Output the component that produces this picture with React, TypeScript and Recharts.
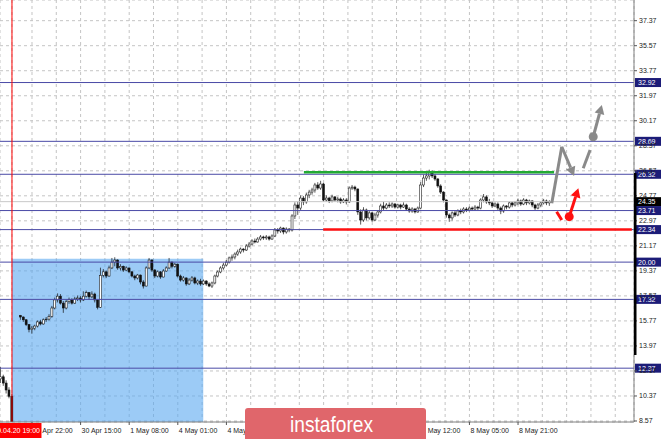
import React from "react";
import {
  ComposedChart,
  Bar,
  XAxis,
  YAxis,
  CartesianGrid,
  ReferenceLine,
  ReferenceArea,
  ReferenceDot,
} from "recharts";

const W = 665;
const H = 439;
const FONT = "'Liberation Sans', Arial, sans-serif";

// candles before the session separator (index 0..4)
const preOpen = [11.6, 11.75, 11.3, 10.8, 10.35];
const preHigh = [12.45, 11.9, 11.5, 11.0, 10.5];
const preLow = [11.3, 11.1, 10.55, 10.2, 8.0];
const preClose = [11.75, 11.3, 10.8, 10.35, 8.1];

// candles from index 7 on
const firstIdx = 7;
const firstOpen = 16.15;
const closes = [
  16.05, 15.85, 15.5, 15.15, 15.25, 15.4, 15.7, 15.55, 15.85, 15.9,
  16.1, 16.7, 17.28, 17.55, 17.05, 16.7, 17.15, 17.3, 17.05, 17.35,
  17.42, 17.28, 17.55, 17.8, 17.5, 17.7, 17.28, 16.75, 19.05, 19.3,
  19.0, 19.58, 20.0, 20.15, 19.58, 19.7, 19.43, 19.58, 19.3, 19.0,
  18.86, 19.07, 18.57, 18.28, 19.58, 20.15, 19.43, 19.0, 19.3, 18.93,
  19.36, 19.58, 20.0, 19.7, 19.85, 19.0, 18.71, 18.86, 18.43, 18.71,
  18.86, 18.5, 18.64, 18.43, 18.64, 18.43, 18.28, 18.5, 19.0, 19.29,
  19.58, 19.79, 20.0, 20.3, 20.37, 20.58, 20.73, 20.94, 20.87, 21.16,
  21.3, 21.52, 21.45, 21.66, 21.81, 21.74, 21.81, 21.66, 21.88, 22.31,
  22.24, 22.45, 22.17, 22.38, 22.31, 23.32, 24.11, 23.89, 24.61, 24.33,
  24.83, 25.04, 25.19, 25.55, 25.33, 25.62, 24.47, 24.61, 24.4, 24.69,
  24.47, 24.54, 24.33, 24.47, 24.33, 25.33, 25.4, 25.26, 23.61, 23.03,
  23.75, 23.18, 23.54, 23.03, 23.39, 23.61, 24.04, 23.89, 24.11, 24.04,
  24.18, 23.96, 24.11, 23.96, 24.11, 23.82, 23.68, 23.82, 23.61, 23.89,
  25.55, 26.05, 26.2, 26.48, 26.2, 25.98, 25.48, 25.04, 24.47, 23.39,
  23.18, 23.54, 23.39, 23.68, 23.61, 23.82, 23.75, 23.89, 23.82, 23.96,
  23.89, 24.47, 24.69, 24.33, 24.26, 24.04, 24.18, 23.89, 23.68, 24.04,
  23.96, 24.26, 24.11, 24.26, 24.4, 24.18, 24.47, 24.26, 24.4, 24.11,
  23.89, 24.11, 24.26, 24.4, 24.26, 24.35,
];
const highs = [
  16.2, 16.1, 15.9, 15.55, 15.4, 15.5, 15.8, 15.85, 15.95, 16.05,
  16.25, 16.85, 17.45, 17.75, 17.7, 17.2, 17.3, 17.45, 17.4, 17.5,
  17.6, 17.55, 17.9, 17.95, 17.85, 17.9, 17.8, 17.3, 19.6, 19.5,
  19.4, 19.75, 20.3, 20.35, 20.2, 19.85, 19.75, 19.7, 19.6, 19.35,
  19.1, 19.15, 19.1, 18.7, 19.7, 20.3, 20.2, 19.5, 19.4, 19.35,
  19.5, 19.7, 20.3, 20.05, 19.95, 19.9, 19.1, 19.0, 18.9, 18.85,
  19.0, 18.95, 18.75, 18.8, 18.75, 18.7, 18.55, 18.6, 19.1, 19.4,
  19.7, 19.95, 20.15, 20.4, 20.55, 20.7, 20.9, 21.05, 21.0, 21.3,
  21.45, 21.65, 21.7, 21.8, 21.95, 21.9, 21.95, 21.9, 22.0, 22.45,
  22.45, 22.55, 22.5, 22.5, 22.45, 23.45, 24.3, 24.35, 24.8, 24.75,
  25.0, 25.2, 25.35, 25.7, 25.75, 25.85, 25.7, 24.8, 24.7, 24.85,
  24.75, 24.7, 24.65, 24.6, 24.6, 25.45, 25.55, 25.5, 25.3, 23.8,
  23.95, 23.85, 23.7, 23.6, 23.55, 23.75, 24.2, 24.35, 24.25, 24.3,
  24.3, 24.25, 24.2, 24.2, 24.3, 24.2, 23.95, 23.95, 23.9, 24.0,
  25.75, 26.3, 26.45, 26.65, 26.6, 26.35, 26.05, 25.6, 25.1, 24.5,
  23.5, 23.65, 23.7, 23.8, 23.85, 23.95, 23.95, 24.0, 24.0, 24.1,
  24.05, 24.6, 24.9, 24.8, 24.55, 24.4, 24.3, 24.3, 24.0, 24.15,
  24.1, 24.35, 24.35, 24.4, 24.55, 24.5, 24.6, 24.55, 24.5, 24.45,
  24.2, 24.25, 24.35, 24.55, 24.5, 24.45,
];
const lows = [
  15.85, 15.7, 15.4, 14.95, 14.85, 15.1, 15.3, 15.45, 15.5, 15.7,
  15.8, 16.0, 16.6, 17.1, 16.95, 16.35, 16.6, 17.0, 16.95, 17.0,
  17.2, 17.1, 17.2, 17.45, 17.3, 17.4, 17.1, 16.6, 16.7, 18.9,
  18.85, 18.95, 19.5, 19.7, 19.45, 19.4, 19.3, 19.35, 19.2, 18.9,
  18.7, 18.75, 18.4, 18.1, 18.25, 19.5, 19.3, 18.85, 18.9, 18.8,
  18.9, 19.3, 19.5, 19.55, 19.6, 18.9, 18.6, 18.6, 18.3, 18.35,
  18.6, 18.4, 18.35, 18.3, 18.35, 18.3, 18.2, 18.14, 18.4, 18.9,
  19.2, 19.45, 19.7, 19.9, 20.1, 20.2, 20.45, 20.6, 20.7, 20.8,
  21.05, 21.2, 21.35, 21.4, 21.55, 21.6, 21.6, 21.55, 21.6, 21.8,
  22.05, 22.1, 22.0, 22.05, 22.15, 22.2, 23.1, 23.4, 23.75, 24.1,
  24.2, 24.6, 24.85, 25.0, 25.2, 25.2, 24.35, 24.35, 24.25, 24.3,
  24.35, 24.3, 24.2, 24.25, 24.15, 24.25, 25.2, 25.1, 23.4, 22.7,
  22.9, 23.0, 23.05, 22.9, 22.95, 23.2, 23.5, 23.75, 23.8, 23.9,
  23.9, 23.85, 23.85, 23.8, 23.9, 23.7, 23.55, 23.55, 23.5, 23.55,
  23.8, 25.4, 25.85, 25.95, 26.05, 25.85, 25.35, 24.9, 24.3, 23.2,
  22.9, 23.0, 23.25, 23.3, 23.45, 23.5, 23.6, 23.65, 23.7, 23.7,
  23.75, 23.8, 24.3, 24.2, 24.1, 23.9, 23.95, 23.75, 23.45, 23.55,
  23.8, 23.85, 23.95, 24.0, 24.1, 24.05, 24.1, 24.1, 24.15, 23.95,
  23.75, 23.8, 23.95, 24.15, 24.1, 24.05,
];

// price scale
const yTicks = [
  8.57, 10.37, 12.17, 13.97, 15.77, 17.57, 19.37, 21.17, 22.97, 24.77,
  26.57, 28.37, 30.17, 31.97, 33.77, 35.57, 37.37,
];
const levels = [32.92, 28.69, 26.32, 23.71, 22.34, 20.0, 17.32, 12.37];
const lastPrice = 24.35;

// time scale (labels under the watermark are not visible in the source)
const xLabelIdx = [11, 28, 45, 62, 79, 96, 113, 130, 147, 164, 181];
const xLabels = [
  "29 Apr 22:00", "30 Apr 15:00", "1 May 08:00", "4 May 01:00", "4 May 18:00",
  "", "", "", "7 May 12:00", "8 May 05:00", "8 May 21:00",
];
const separatorIdx = 4;
const separatorLabel = "29.04.20 19:00";

// drawn objects
const boxArea = { x1: 4, x2: 70.9, top: 20.25 };
const greenLevel = { from: 106.1, to: 193.6, y: 26.46 };
const redLevel = { from: 112.9, to: 220.8, y: 22.34 };
const grayZig = [[192.8, 24.23], [196.3, 28.3], [200.6, 26.2]];
const grayDash = [[203.8, 26.75], [206.2, 28.07]];
const grayDot = [207.3, 29.02];
const grayTip = [210.3, 31.3];
const redDash = [[194.5, 23.63], [196.3, 23.03]];
const redDot = [198.9, 23.27];
const redTip = [202.1, 25.31];

const X_MIN = -0.19;
const X_MAX = 221.56;
const Y_MIN = 8.498;
const Y_MAX = 38.858;

const candles = [
  ...preClose.map((c, k) => ({ i: k, o: preOpen[k], h: preHigh[k], l: preLow[k], c })),
  ...closes.map((c, k) => ({
    i: firstIdx + k,
    o: k === 0 ? firstOpen : closes[k - 1],
    h: highs[k],
    l: lows[k],
    c,
  })),
];

const xTicks: number[] = [];
xLabelIdx.forEach((v) => {
  xTicks.push(v);
  xTicks.push(v + 8.5);
});
const lastLab = xLabelIdx[xLabelIdx.length - 1];
xTicks.push(lastLab + 17, lastLab + 25.5, lastLab + 34);
xTicks.push(separatorIdx); // drawn last so its tag sits on top

const Candle = (props: any) => {
  const { x, y, width, height, payload } = props;
  if (!payload) return null;
  const { o, h, l, c } = payload;
  const top = Math.min(y, y + height);
  const bot = Math.max(y, y + height);
  const span = h - l || 1;
  const py = (v: number) => top + ((h - v) / span) * (bot - top);
  const cx = x + width / 2;
  const bTop = py(Math.max(o, c));
  const bBot = py(Math.min(o, c));
  const up = c >= o;
  return (
    <g>
      <line x1={cx} x2={cx} y1={top} y2={bot} stroke="#111" strokeWidth={0.7} />
      <rect
        x={cx - 1}
        y={bTop}
        width={2}
        height={Math.max(bBot - bTop, 0.6)}
        fill={up ? "#fff" : "#111"}
        stroke="#111"
        strokeWidth={0.55}
      />
    </g>
  );
};

const XTick = (props: any) => {
  const { x, y, payload } = props;
  if (payload.value === separatorIdx) {
    return (
      <g>
        <rect x={x - 30} y={y + 1} width={59.5} height={15} fill="#ff0000" />
        <text x={x + 28} y={y + 11} textAnchor="end" fontSize={7} fill="#fff" fontFamily={FONT}>
          {separatorLabel}
        </text>
      </g>
    );
  }
  const k = xLabelIdx.indexOf(payload.value);
  if (k < 0) return <g />;
  return (
    <g>
      <line x1={x} x2={x} y1={y} y2={y + 3} stroke="#555" />
      {xLabels[k] && (
        <text x={x + 1} y={y + 11} fontSize={7} fill="#222" fontFamily={FONT}>
          {xLabels[k]}
        </text>
      )}
    </g>
  );
};

const YTick = (props: any) => {
  const { x, y, payload } = props;
  return (
    <g>
      <line x1={x} x2={x + 3} y1={y} y2={y} stroke="#555" />
      <text x={x + 5} y={y} dy={2.5} fontSize={7} fill="#222" fontFamily={FONT}>
        {payload.value.toFixed(2)}
      </text>
    </g>
  );
};

const tag = (value: number, bg: string) => (props: any) => {
  const vb = props.viewBox || {};
  const x = (vb.x || 0) + (vb.width || 0);
  const y = vb.y || 0;
  return (
    <g>
      <rect x={x + 1} y={y - 4.5} width={26} height={9} fill={bg} />
      <text x={x + 4} y={y} dy={2.5} fontSize={7} fill="#fff" fontFamily={FONT}>
        {value.toFixed(2)}
      </text>
    </g>
  );
};

const arrow = (color: string, head: boolean, sw: number) => (p: any) => {
  const { x1, y1, x2, y2 } = p;
  const dx = x2 - x1;
  const dy = y2 - y1;
  const len = Math.sqrt(dx * dx + dy * dy) || 1;
  const ux = dx / len;
  const uy = dy / len;
  const hl = head ? 9 : 0;
  const bx = x2 - ux * hl;
  const by = y2 - uy * hl;
  return (
    <g>
      <line x1={x1} y1={y1} x2={bx} y2={by} stroke={color} strokeWidth={sw} />
      {head && (
        <polygon
          points={`${x2},${y2} ${bx - uy * 5},${by + ux * 5} ${bx + uy * 5},${by - ux * 5}`}
          fill={color}
        />
      )}
    </g>
  );
};

const GRAY = "#8a8a8a";
const RED = "#ff1010";
const LEVEL = "#4a4aa6";

export default function App() {
  return (
    <div style={{ position: "absolute", left: 0, top: 0, width: W, height: H, background: "#fff" }}>
      <ComposedChart width={W} height={H} data={candles} margin={{ top: 0, right: 0, bottom: 0, left: 0 }}>
        <CartesianGrid stroke="#c4c4c4" strokeDasharray="3 3" />
        <XAxis
          type="number"
          dataKey="i"
          domain={[X_MIN, X_MAX]}
          allowDataOverflow
          ticks={xTicks}
          interval={0}
          height={17}
          tickLine={false}
          tickSize={0}
          tickMargin={0}
          tick={XTick}
          axisLine={{ stroke: "#808080" }}
        />
        <YAxis
          orientation="right"
          type="number"
          domain={[Y_MIN, Y_MAX]}
          allowDataOverflow
          ticks={yTicks}
          interval={0}
          width={31}
          tickLine={false}
          tickSize={0}
          tickMargin={0}
          tick={YTick}
          axisLine={{ stroke: "#808080" }}
        />
        <ReferenceArea
          x1={boxArea.x1}
          x2={boxArea.x2}
          y1={Y_MIN}
          y2={boxArea.top}
          fill="#5aa8f0"
          fillOpacity={0.6}
          stroke="none"
        />
        <ReferenceLine y={lastPrice} stroke="#c8c8c8" label={tag(lastPrice, "#000")} />
        {levels.map((v) => (
          <ReferenceLine key={v} y={v} stroke={LEVEL} strokeWidth={1} label={tag(v, "#1c1c78")} />
        ))}
        <ReferenceLine x={separatorIdx} stroke="#ff0000" strokeWidth={1} />
        <Bar dataKey={(d: any) => [d.l, d.h]} shape={Candle} barSize={3} isAnimationActive={false} />
        <ReferenceLine
          segment={[{ x: greenLevel.from, y: greenLevel.y }, { x: greenLevel.to, y: greenLevel.y }]}
          stroke="#22aa33"
          strokeWidth={2.5}
        />
        <ReferenceLine
          segment={[{ x: redLevel.from, y: redLevel.y }, { x: redLevel.to, y: redLevel.y }]}
          stroke={RED}
          strokeWidth={2.5}
        />
        <ReferenceLine
          segment={[{ x: grayZig[0][0], y: grayZig[0][1] }, { x: grayZig[1][0], y: grayZig[1][1] }]}
          shape={arrow(GRAY, false, 3)}
        />
        <ReferenceLine
          segment={[{ x: grayZig[1][0], y: grayZig[1][1] }, { x: grayZig[2][0], y: grayZig[2][1] }]}
          shape={arrow(GRAY, true, 3)}
        />
        <ReferenceLine
          segment={[{ x: grayDash[0][0], y: grayDash[0][1] }, { x: grayDash[1][0], y: grayDash[1][1] }]}
          shape={arrow(GRAY, false, 3)}
        />
        <ReferenceLine
          segment={[{ x: grayDot[0], y: grayDot[1] }, { x: grayTip[0], y: grayTip[1] }]}
          shape={arrow(GRAY, true, 3)}
        />
        <ReferenceDot x={grayDot[0]} y={grayDot[1]} r={4.5} fill={GRAY} stroke="none" />
        <ReferenceLine
          segment={[{ x: redDash[0][0], y: redDash[0][1] }, { x: redDash[1][0], y: redDash[1][1] }]}
          shape={arrow(RED, false, 3)}
        />
        <ReferenceLine
          segment={[{ x: redDot[0], y: redDot[1] }, { x: redTip[0], y: redTip[1] }]}
          shape={arrow(RED, true, 3)}
        />
        <ReferenceDot x={redDot[0]} y={redDot[1]} r={4.5} fill={RED} stroke="none" />
      </ComposedChart>
      <svg
        width={W}
        height={H}
        style={{ position: "absolute", left: 0, top: 0, pointerEvents: "none" }}
      >
        <rect x={634} y={173} width={2.5} height={182} fill="#000" />
        <rect x={245} y={408} width={181} height={40} rx={3} fill="#e0666b" />
        <text
          x={290}
          y={432}
          fontSize={22}
          fill="#fff"
          fontFamily={FONT}
          textLength={83}
          lengthAdjust="spacingAndGlyphs"
        >
          instaforex
        </text>
      </svg>
    </div>
  );
}
